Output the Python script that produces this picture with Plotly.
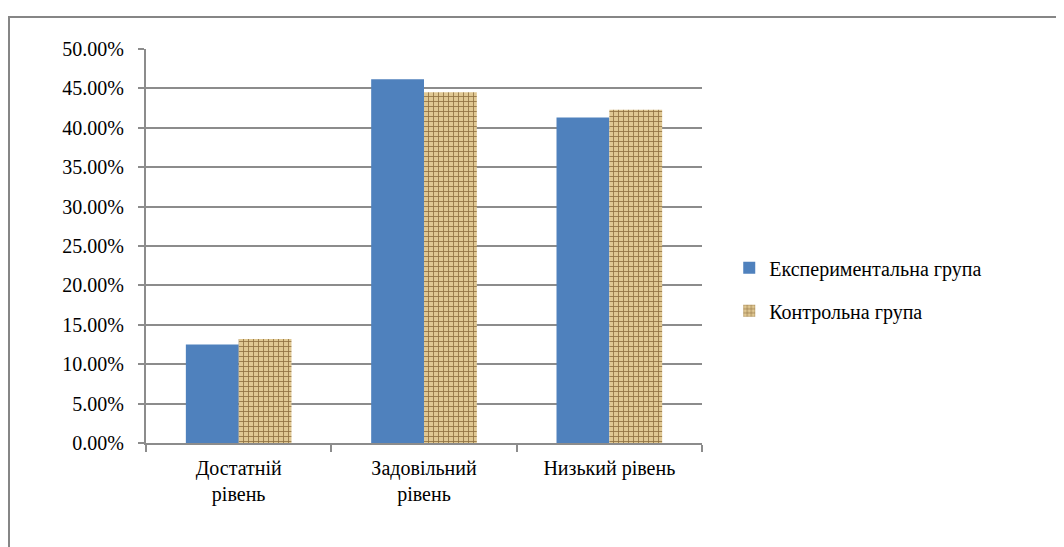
import plotly.graph_objects as go

categories = ["Достатній<br>рівень", "Задовільний<br>рівень", "Низький рівень"]
exp_values = [0.125, 0.4615, 0.413]
ctrl_values = [0.132, 0.445, 0.423]
series_names = ["Експериментальна група", "Контрольна група"]
y_ticks = [0, 0.05, 0.10, 0.15, 0.20, 0.25, 0.30, 0.35, 0.40, 0.45, 0.50]

FONT = "Liberation Serif, DejaVu Serif"
GRID = "#8c8c8c"

fig = go.Figure()
fig.add_trace(go.Bar(
    x=categories, y=exp_values, name=series_names[0],
    marker=dict(color="#4F81BD", line=dict(width=0)),
    legendgroup="a",
))
fig.add_trace(go.Bar(
    x=categories, y=ctrl_values, name=series_names[1],
    marker=dict(
        color="#D8BC85",
        line=dict(width=0),
        pattern=dict(shape="+", fgcolor="#8F7040", bgcolor="#E0C893",
                     size=5, solidity=0.3, fillmode="replace"),
    ),
    legendgroup="b",
))

fig.update_layout(
    width=1056, height=539,
    margin=dict(l=138, r=362, t=41, b=104),
    paper_bgcolor="white", plot_bgcolor="white",
    barmode="group", bargap=0.43, bargroupgap=0,
    font=dict(family=FONT, size=20, color="black"),
    showlegend=True,
    legend=dict(
        x=1.049, xanchor="left", y=0.39, yanchor="middle",
        font=dict(family=FONT, size=20, color="black"),
        tracegroupgap=14, bgcolor="rgba(0,0,0,0)",
    ),
    xaxis=dict(
        type="category", showgrid=False,
        showline=True, linecolor=GRID, linewidth=2,
        ticks="outside", tickson="boundaries", ticklen=7, tickcolor=GRID, tickwidth=2,
        ticklabelstandoff=6,
        tickfont=dict(family=FONT, size=20, color="black"),
    ),
    yaxis=dict(
        range=[0, 0.5], tickvals=y_ticks, tickformat=".2%",
        showgrid=True, gridcolor=GRID, gridwidth=1.5,
        showline=True, linecolor=GRID, linewidth=2,
        ticks="outside", ticklen=6, tickcolor=GRID, tickwidth=2,
        ticklabelstandoff=10,
        tickfont=dict(family=FONT, size=20, color="black"),
        zeroline=False,
    ),
    shapes=[dict(
        type="rect", xref="paper", yref="paper",
        x0=-0.2464, x1=1.70, y0=-0.30, y1=1.0812,
        line=dict(color="#868686", width=2), fillcolor="rgba(0,0,0,0)",
        layer="below",
    )],
)

fig.write_html("out.html")
